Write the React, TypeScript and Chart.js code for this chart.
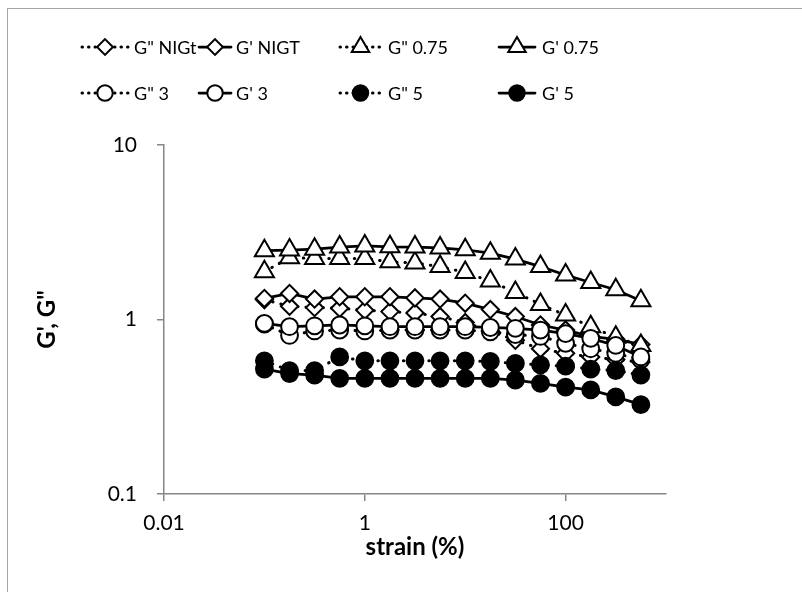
import React, { useEffect, useRef } from "react";
import { Chart, registerables } from "chart.js";

Chart.register(...registerables);

// ---- data ----
const strain = [0.1, 0.178, 0.316, 0.562, 1, 1.78, 3.16, 5.62, 10, 17.8, 31.6, 56.2, 100, 178, 316, 562];

const gppNIGt = [1.30, 1.19, 1.17, 1.16, 1.13, 1.11, 1.09, 1.04, 0.96, 0.86, 0.76, 0.68, 0.64, 0.61, 0.59, 0.57];
const gpNIGT = [1.32, 1.41, 1.31, 1.35, 1.35, 1.35, 1.33, 1.31, 1.24, 1.14, 1.04, 0.93, 0.87, 0.80, 0.77, 0.72];
const gpp075 = [1.88, 2.26, 2.24, 2.24, 2.24, 2.14, 2.11, 2.01, 1.86, 1.66, 1.43, 1.22, 1.06, 0.91, 0.79, 0.71];
const gp075 = [2.48, 2.50, 2.53, 2.60, 2.64, 2.61, 2.60, 2.57, 2.51, 2.40, 2.22, 2.01, 1.80, 1.63, 1.48, 1.28];
const gpp3 = [0.94, 0.81, 0.86, 0.87, 0.86, 0.87, 0.87, 0.87, 0.87, 0.85, 0.82, 0.80, 0.73, 0.68, 0.64, 0.59];
const gp3 = [0.95, 0.91, 0.92, 0.93, 0.92, 0.91, 0.91, 0.91, 0.91, 0.90, 0.89, 0.87, 0.83, 0.78, 0.71, 0.61];
const gpp5 = [0.58, 0.51, 0.51, 0.61, 0.58, 0.58, 0.58, 0.58, 0.58, 0.575, 0.56, 0.55, 0.54, 0.52, 0.51, 0.48];
const gp5 = [0.52, 0.49, 0.48, 0.46, 0.46, 0.46, 0.46, 0.46, 0.46, 0.46, 0.45, 0.43, 0.41, 0.395, 0.36, 0.325];

const seriesLabels = ['G" NIGt', "G' NIGT", 'G" 0.75', "G' 0.75", 'G" 3', "G' 3", 'G" 5', "G' 5"];
const seriesValues = [gppNIGt, gpNIGT, gpp075, gp075, gpp3, gp3, gpp5, gp5];

const xTickValues = [0.01, 1, 100];
const yTickValues = [0.1, 1, 10];
const xTitle = "strain (%)";
const yTitle = "G', G\"";

// ---- styles ----
const FONT = "Lato, 'Open Sans', sans-serif";
const AXIS = "#868686";
type Mk = "rectRot" | "triangle" | "circle";
const markers: Mk[] = ["rectRot", "rectRot", "triangle", "triangle", "circle", "circle", "circle", "circle"];
const fills = ["#fff", "#fff", "#fff", "#fff", "#fff", "#fff", "#000", "#000"];
const dotted = [true, false, true, false, true, false, true, false];
const radius = (m: Mk) => (m === "triangle" ? 11 : m === "circle" ? 8.4 : 8.6);

// legend layout (columns / rows)
const legCols = [
  { s: 82, e: 128, t: 134 },
  { s: 199, e: 231, t: 236 },
  { s: 340, e: 381, t: 388 },
  { s: 499, e: 535, t: 542 },
];
const legRows = [47, 93];

function drawMarker(ctx: CanvasRenderingContext2D, m: Mk, x: number, y: number, r: number, fill: string) {
  ctx.beginPath();
  if (m === "circle") {
    ctx.arc(x, y, r, 0, Math.PI * 2);
  } else if (m === "rectRot") {
    ctx.moveTo(x, y - r);
    ctx.lineTo(x + r, y);
    ctx.lineTo(x, y + r);
    ctx.lineTo(x - r, y);
  } else {
    const h = Math.sqrt(3) / 2;
    ctx.moveTo(x, y - r);
    ctx.lineTo(x + r * h, y + r / 2);
    ctx.lineTo(x - r * h, y + r / 2);
  }
  ctx.closePath();
  ctx.fillStyle = fill;
  ctx.fill();
  ctx.setLineDash([]);
  ctx.lineWidth = 2;
  ctx.strokeStyle = "#000";
  ctx.stroke();
}

const framePlugin = {
  id: "frame",
  beforeDraw(chart: any) {
    const { ctx, width, height } = chart;
    ctx.save();
    ctx.fillStyle = "#fff";
    ctx.fillRect(0, 0, width, height);
    ctx.strokeStyle = "#a6a6a6";
    ctx.lineWidth = 1;
    ctx.strokeRect(7.5, 8.5, width + 20, height + 20);
    ctx.restore();
  },
  afterDraw(chart: any) {
    const ctx: CanvasRenderingContext2D = chart.ctx;
    ctx.save();
    chart.data.datasets.forEach((ds: any, i: number) => {
      const col = legCols[i % 4];
      const y = legRows[Math.floor(i / 4)];
      ctx.strokeStyle = "#000";
      ctx.lineWidth = ds.borderWidth;
      ctx.lineCap = "round";
      ctx.setLineDash(dotted[i] ? [0.5, 6] : []);
      ctx.beginPath();
      ctx.moveTo(col.s, y);
      ctx.lineTo(col.e, y);
      ctx.stroke();
      drawMarker(ctx, markers[i], (col.s + col.e) / 2, y, radius(markers[i]) * 0.92, fills[i]);
      ctx.fillStyle = "#000";
      ctx.font = `18px ${FONT}`;
      ctx.textAlign = "left";
      ctx.textBaseline = "middle";
      ctx.fillText(ds.label, col.t, y + 1);
    });
    ctx.restore();
  },
};

export default function App() {
  const ref = useRef<HTMLCanvasElement | null>(null);

  useEffect(() => {
    if (!ref.current) return;
    const n = seriesLabels.length;
    const datasets = seriesLabels.map((label, i) => ({
      label,
      data: strain.map((x, k) => ({ x, y: seriesValues[i][k] })),
      borderColor: "#000",
      borderWidth: dotted[i] ? 3 : 2.75,
      borderDash: dotted[i] ? [0.5, 8] : [],
      borderCapStyle: "round" as const,
      pointStyle: markers[i],
      pointRadius: radius(markers[i]),
      pointBackgroundColor: fills[i],
      pointBorderColor: "#000",
      pointBorderWidth: 2,
      tension: 0,
      order: n - i,
    }));

    const chart = new Chart(ref.current, {
      type: "line",
      data: { datasets },
      plugins: [framePlugin],
      options: {
        animation: false,
        responsive: false,
        devicePixelRatio: 1,
        layout: { padding: { left: 0, right: 136, top: 145, bottom: 0 } },
        plugins: { legend: { display: false }, tooltip: { enabled: false } },
        scales: {
          x: {
            type: "logarithmic",
            min: 0.01,
            max: 1000,
            afterBuildTicks: (s: any) => {
              s.ticks = xTickValues.map((v) => ({ value: v }));
            },
            afterFit: (s: any) => {
              s.height = 98;
            },
            ticks: {
              autoSkip: false,
              maxRotation: 0,
              padding: 10,
              color: "#000",
              font: { family: FONT, size: 21 },
              callback: (v: any) => String(v),
            },
            grid: { display: true, drawOnChartArea: false, drawTicks: true, tickLength: 7, color: AXIS, lineWidth: 1.5 },
            border: { display: true, color: AXIS, width: 1.5 },
            title: {
              display: true,
              text: xTitle,
              color: "#000",
              font: { family: FONT, size: 24, weight: "bold" },
              padding: { top: 0, bottom: 30 },
            },
          },
          y: {
            type: "logarithmic",
            min: 0.1,
            max: 10,
            afterBuildTicks: (s: any) => {
              s.ticks = yTickValues.map((v) => ({ value: v }));
            },
            afterFit: (s: any) => {
              s.width = 164;
            },
            ticks: {
              autoSkip: false,
              padding: 20,
              color: "#000",
              font: { family: FONT, size: 21 },
              callback: (v: any) => String(v),
            },
            grid: { display: true, drawOnChartArea: false, drawTicks: true, tickLength: 7, color: AXIS, lineWidth: 1.5 },
            border: { display: true, color: AXIS, width: 1.5 },
            title: {
              display: true,
              text: yTitle,
              color: "#000",
              font: { family: FONT, size: 24, weight: "bold" },
              padding: { top: 33, bottom: 0 },
            },
          },
        },
      },
    });
    return () => chart.destroy();
  }, []);

  return (
    <div style={{ position: "fixed", left: 0, top: 0, width: 802, height: 592, overflow: "hidden" }}>
      <canvas ref={ref} width={802} height={592} style={{ display: "block" }} />
    </div>
  );
}
